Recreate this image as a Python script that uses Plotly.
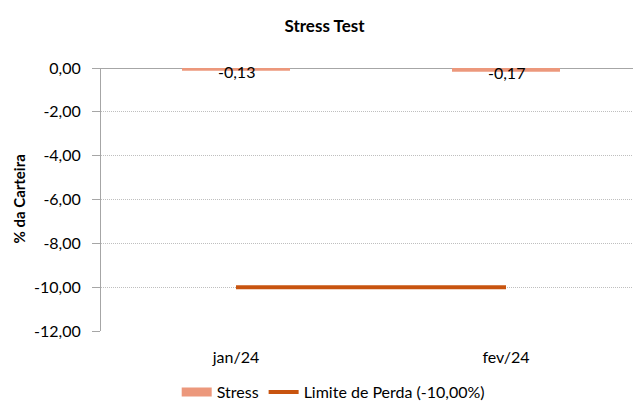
import plotly.graph_objects as go

categories = ["jan/24", "fev/24"]
stress = [-0.13, -0.17]
limite = [-10.0, -10.0]
stress_labels = ["-0,13", "-0,17"]
ytick_vals = [0, -2, -4, -6, -8, -10, -12]
ytick_text = ["0,00", "-2,00", "-4,00", "-6,00", "-8,00", "-10,00", "-12,00"]

FONT = "Lato, 'Open Sans', sans-serif"
BAR_COLOR = "#EC987C"

fig = go.Figure()
fig.add_trace(go.Bar(
    x=categories, y=stress, name="Stress",
    marker=dict(color=BAR_COLOR, line=dict(width=0)),
    width=0.4, showlegend=False,
))
# legend proxy for the bar series (wide flat swatch as in the reference)
fig.add_trace(go.Scatter(
    x=[None], y=[None], name="Stress", mode="lines",
    line=dict(color=BAR_COLOR, width=9),
))
fig.add_trace(go.Scatter(
    x=categories, y=limite, name="Limite de Perda (-10,00%)",
    mode="lines", line=dict(color="#C8540F", width=4),
))
for c, v, t in zip(categories, stress, stress_labels):
    fig.add_annotation(x=c, y=v, text=t, showarrow=False, yanchor="middle", yshift=-1,
                       font=dict(size=16, family=FONT, color="black"))

fig.add_annotation(xref="paper", yref="paper", x=0, y=0.5, xshift=-83, textangle=-90,
                   text="<b>% da Carteira</b>", showarrow=False, xanchor="center", yanchor="middle",
                   font=dict(size=15, family=FONT, color="black"))

fig.update_layout(
    width=633, height=401,
    margin=dict(l=93, r=0, t=60, b=71),
    paper_bgcolor="white", plot_bgcolor="white",
    font=dict(family=FONT, size=16, color="black"),
    title=dict(text="<b>Stress Test</b>", x=0.5, xanchor="center", y=0.955, yanchor="middle",
               font=dict(size=17, family=FONT, color="black")),
    showlegend=True,
    legend=dict(orientation="h", x=0.43, xanchor="center", y=-0.233, yanchor="middle",
                font=dict(size=16, family=FONT), traceorder="normal"),
)
fig.update_xaxes(
    showgrid=False, showline=False, ticks="", ticklabelstandoff=15,
    tickfont=dict(size=16, family=FONT), automargin=False,
)
fig.update_yaxes(
    range=[-12, 0], tickvals=ytick_vals, ticktext=ytick_text,
    showgrid=True, gridcolor="#BFBFBF", griddash="1px,1px", gridwidth=1,
    zeroline=True, zerolinecolor="#A6A6A6", zerolinewidth=1,
    showline=True, linecolor="#A6A6A6", linewidth=1,
    ticks="outside", ticklen=8, tickcolor="#A6A6A6", ticklabelstandoff=8,
    tickfont=dict(size=16, family=FONT), automargin=False,
)

fig.write_html("out.html")
